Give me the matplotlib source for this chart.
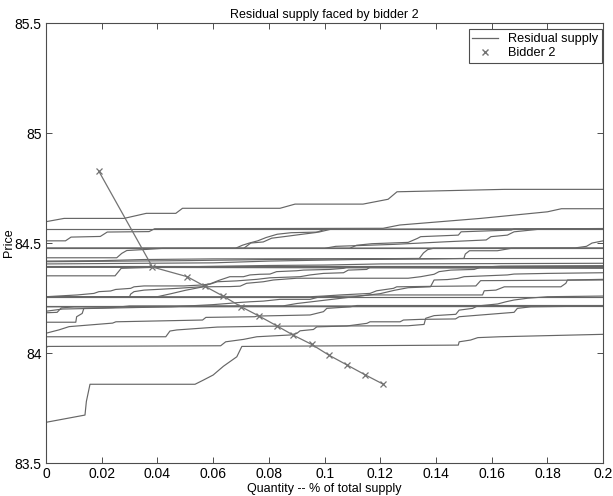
import matplotlib
matplotlib.use("Agg")
from matplotlib import pyplot as plt
from matplotlib.lines import Line2D

# bidder 2 offer curve (quantity share, price)
bid_q = [0.019, 0.0382, 0.0507, 0.0571, 0.0637, 0.0701, 0.0765, 0.0828,
         0.0888, 0.0954, 0.1016, 0.108, 0.1144, 0.1211]
bid_p = [84.826, 84.391, 84.347, 84.303, 84.258, 84.21, 84.168, 84.124,
         84.081, 84.039, 83.99, 83.946, 83.902, 83.858]

# residual supply curves, (quantity, price) breakpoints
rs01 = [(0, 84.597), (0.0065, 84.612), (0.028, 84.612), (0.036, 84.635), (0.0466, 84.635),
        (0.049, 84.658), (0.084, 84.658), (0.0894, 84.677), (0.1138, 84.677),
        (0.1228, 84.699), (0.126, 84.733), (0.1645, 84.744), (0.2, 84.744)]
rs02 = [(0, 84.566), (0.2, 84.566)]
rs03 = [(0, 84.51), (0.007, 84.51), (0.009, 84.527), (0.0195, 84.53), (0.022, 84.55),
        (0.037, 84.552), (0.039, 84.565), (0.121, 84.567), (0.127, 84.582), (0.156, 84.612),
        (0.18, 84.642), (0.185, 84.656), (0.2, 84.656)]
rs04 = [(0, 84.476), (0.2, 84.476)]
rs05 = [(0, 84.476), (0.068, 84.476), (0.0705, 84.49), (0.073, 84.5), (0.076, 84.51),
        (0.079, 84.525), (0.083, 84.54), (0.088, 84.547), (0.098, 84.55), (0.102, 84.562),
        (0.2, 84.564)]
rs06 = [(0, 84.476), (0.071, 84.476), (0.0735, 84.5), (0.078, 84.505), (0.081, 84.522),
        (0.086, 84.53), (0.092, 84.54), (0.097, 84.548), (0.1, 84.562), (0.2, 84.565)]
rs07 = [(0, 84.476), (0.109, 84.476), (0.1115, 84.49), (0.117, 84.497), (0.13, 84.503),
        (0.1333, 84.521), (0.1345, 84.529), (0.148, 84.536), (0.149, 84.551),
        (0.167, 84.559), (0.168, 84.564), (0.2, 84.566)]
rs08 = [(0, 84.476), (0.1, 84.476), (0.104, 84.485), (0.125, 84.494), (0.144, 84.506),
        (0.158, 84.514), (0.1597, 84.529), (0.1656, 84.536), (0.168, 84.551),
        (0.1764, 84.562), (0.2, 84.565)]
rs09 = [(0, 84.433), (0.0254, 84.433), (0.0272, 84.453), (0.029, 84.466), (0.036, 84.471),
        (0.042, 84.476), (0.19, 84.478), (0.194, 84.485), (0.196, 84.5), (0.2, 84.51)]
rs10 = [(0, 84.418), (0.02, 84.42), (0.035, 84.425), (0.06, 84.428), (0.2, 84.43)]
rs11 = [(0, 84.415), (0.03, 84.418), (0.05, 84.42), (0.08, 84.425), (0.11, 84.428),
        (0.134, 84.43), (0.1355, 84.455), (0.137, 84.47), (0.139, 84.476), (0.2, 84.477)]
rs12 = [(0, 84.405), (0.06, 84.41), (0.08, 84.418), (0.089, 84.42), (0.111, 84.425),
        (0.14, 84.428), (0.15, 84.43), (0.1505, 84.45), (0.152, 84.465), (0.162, 84.465),
        (0.167, 84.476), (0.2, 84.477)]
rs13 = [(0, 84.395), (0.2, 84.395)]
rs14 = [(0, 84.39), (0.2, 84.385)]
rs15 = [(0, 84.351), (0.0248, 84.351), (0.027, 84.385), (0.04, 84.39), (0.2, 84.39)]
rs16 = [(0, 84.39), (0.05, 84.392), (0.08, 84.398), (0.1, 84.4), (0.12, 84.405),
        (0.2, 84.408)]
rs17 = [(0, 84.256), (0.03, 84.256), (0.0304, 84.268), (0.0316, 84.279), (0.0352, 84.286),
        (0.0471, 84.294), (0.0555, 84.301), (0.066, 84.302), (0.0697, 84.304),
        (0.072, 84.317), (0.078, 84.324), (0.0816, 84.332), (0.09, 84.34), (0.13, 84.34),
        (0.1345, 84.347), (0.1393, 84.358), (0.1411, 84.37), (0.1453, 84.377),
        (0.1537, 84.38), (0.156, 84.39), (0.1633, 84.395), (0.2, 84.397)]
rs18 = [(0, 84.256), (0.095, 84.256), (0.0996, 84.259), (0.1056, 84.264), (0.1163, 84.271),
        (0.1187, 84.283), (0.1247, 84.294), (0.1259, 84.301), (0.1375, 84.303),
        (0.1543, 84.305), (0.156, 84.329), (0.2, 84.332)]
rs19 = [(0, 84.256), (0.2, 84.256)]
rs20 = [(0, 84.214), (0.2, 84.214)]
rs21 = [(0, 84.19), (0.006, 84.2), (0.025, 84.205), (0.045, 84.21), (0.06, 84.22),
        (0.066, 84.226), (0.0685, 84.229), (0.0732, 84.233), (0.078, 84.236),
        (0.084, 84.244), (0.0948, 84.244), (0.0984, 84.256), (0.1116, 84.259),
        (0.1163, 84.264), (0.1567, 84.264), (0.1573, 84.283), (0.1615, 84.286),
        (0.1645, 84.301), (0.1848, 84.301), (0.1866, 84.317), (0.1872, 84.332),
        (0.2, 84.335)]
rs22 = [(0, 84.09), (0.0046, 84.105), (0.0083, 84.12), (0.0239, 84.136), (0.0251, 84.142),
        (0.0562, 84.15), (0.0574, 84.162), (0.075, 84.165), (0.0757, 84.168),
        (0.0948, 84.173), (0.0996, 84.188), (0.1008, 84.203), (0.1092, 84.21),
        (0.1116, 84.216), (0.2, 84.216)]
rs23 = [(0, 84.074), (0.043, 84.074), (0.0445, 84.1), (0.047, 84.105), (0.0615, 84.118),
        (0.08, 84.122), (0.13, 84.124), (0.1357, 84.13), (0.1363, 84.158), (0.1393, 84.17),
        (0.1471, 84.176), (0.1483, 84.195), (0.1531, 84.203), (0.1549, 84.214),
        (0.1621, 84.223), (0.1651, 84.233), (0.168, 84.241), (0.1728, 84.249),
        (0.18, 84.256), (0.2, 84.259)]
rs24 = [(0, 84.02), (0.0005, 84.03), (0.0627, 84.033), (0.0645, 84.051), (0.0709, 84.062),
        (0.0757, 84.074), (0.0876, 84.082), (0.09, 84.089), (0.0912, 84.101),
        (0.096, 84.107), (0.0972, 84.119), (0.108, 84.123), (0.1104, 84.127),
        (0.1152, 84.135), (0.1163, 84.142), (0.1271, 84.142), (0.1283, 84.15),
        (0.1343, 84.153), (0.147, 84.155), (0.1483, 84.165), (0.168, 84.185),
        (0.1692, 84.203), (0.174, 84.21), (0.2, 84.214)]
rs25 = [(0, 83.685), (0.014, 83.718), (0.0145, 83.78), (0.0158, 83.858), (0.0535, 83.858),
        (0.0565, 83.877), (0.06, 83.9), (0.0637, 83.94), (0.0685, 83.983), (0.0703, 84.03),
        (0.148, 84.036), (0.1483, 84.051), (0.1524, 84.059), (0.155, 84.07),
        (0.163, 84.074), (0.2, 84.085)]
rs26 = [(0, 84.183), (0.004, 84.185), (0.0055, 84.205), (0.01, 84.21), (0.2, 84.212)]
rs27 = [(0, 84.14), (0.0107, 84.14), (0.011, 84.165), (0.013, 84.18), (0.0136, 84.203),
        (0.0244, 84.207), (0.03, 84.214), (0.2, 84.214)]
rs28 = [(0, 84.256), (0.0112, 84.264), (0.0172, 84.271), (0.019, 84.279), (0.0232, 84.282),
        (0.025, 84.289), (0.0304, 84.294), (0.0316, 84.301), (0.0352, 84.305),
        (0.0496, 84.305), (0.0555, 84.309), (0.0591, 84.314), (0.0615, 84.324),
        (0.0685, 84.328), (0.0757, 84.335), (0.0804, 84.342), (0.0912, 84.347),
        (0.0948, 84.355), (0.0996, 84.362), (0.1068, 84.365), (0.1085, 84.377),
        (0.1151, 84.38), (0.1163, 84.39), (0.2, 84.395)]
rs29 = [(0, 84.256), (0.04, 84.256), (0.045, 84.27), (0.05, 84.285), (0.056, 84.3),
        (0.062, 84.33), (0.066, 84.347), (0.0709, 84.347), (0.0732, 84.355),
        (0.0768, 84.358), (0.0804, 84.359), (0.0828, 84.37), (0.09, 84.374),
        (0.0924, 84.377), (0.102, 84.38), (0.1068, 84.385), (0.108, 84.39), (0.2, 84.39)]
rs30 = [(0, 84.21), (0.085, 84.214), (0.09, 84.225), (0.1, 84.24), (0.11, 84.255),
        (0.12, 84.27), (0.125, 84.285), (0.13, 84.297), (0.138, 84.301), (0.1393, 84.332),
        (0.1441, 84.334), (0.1477, 84.339), (0.1501, 84.347), (0.156, 84.35),
        (0.1656, 84.355), (0.168, 84.359), (0.18, 84.362), (0.2, 84.365)]

curves = [rs01, rs02, rs03, rs04, rs05, rs06, rs07, rs08, rs09, rs10, rs11, rs12, rs13,
          rs14, rs15, rs16, rs17, rs18, rs19, rs20, rs21, rs22, rs23, rs24, rs25, rs26,
          rs27, rs28, rs29, rs30]

plt.rcParams['font.family'] = ['Liberation Sans', 'DejaVu Sans']
fig = plt.figure(figsize=(6.13, 4.96), dpi=100)
ax = fig.add_axes([0.075, 0.0665, 0.909, 0.887])

for c in curves:
    q = [pt[0] for pt in c]
    p = [pt[1] for pt in c]
    ax.plot(q, p, color='0.4', lw=0.85)

ax.plot(bid_q, bid_p, color='0.45', lw=0.9, marker='x', ms=5, mew=0.9)

ax.set_xlim(0, 0.2)
ax.set_ylim(83.5, 85.5)
ax.set_xticks([0, 0.02, 0.04, 0.06, 0.08, 0.1, 0.12, 0.14, 0.16, 0.18, 0.2])
ax.set_xticklabels(['0', '0.02', '0.04', '0.06', '0.08', '0.1', '0.12', '0.14', '0.16',
                    '0.18', '0.2'])
ax.set_yticks([83.5, 84, 84.5, 85, 85.5])
ax.set_yticklabels(['83.5', '84', '84.5', '85', '85.5'])
ax.tick_params(direction='in', top=True, right=True, length=4, width=0.7,
               labelsize=10, color='0.3', pad=3)
for s in ax.spines.values():
    s.set_color('0.3')
    s.set_linewidth(0.8)

ax.set_title("Residual supply faced by bidder 2", fontsize=9, pad=4)
ax.set_xlabel("Quantity -- % of total supply", fontsize=9, labelpad=1)
ax.set_ylabel("Price", fontsize=9, va='center')
ax.yaxis.set_label_coords(-0.066, 0.5)

handles = [Line2D([], [], color='0.4', lw=0.9),
           Line2D([], [], color='0.45', ls='none', marker='x', ms=4)]
leg = ax.legend(handles, ['Residual supply', 'Bidder 2'], loc='upper right',
                bbox_to_anchor=(0.998, 0.986), borderaxespad=0,
                fontsize=9.2, fancybox=False, framealpha=1, edgecolor='0.3',
                handlelength=2.0, labelspacing=0.15, borderpad=0.3)
leg.get_frame().set_linewidth(0.8)

plt.savefig('out.png', dpi=100)
